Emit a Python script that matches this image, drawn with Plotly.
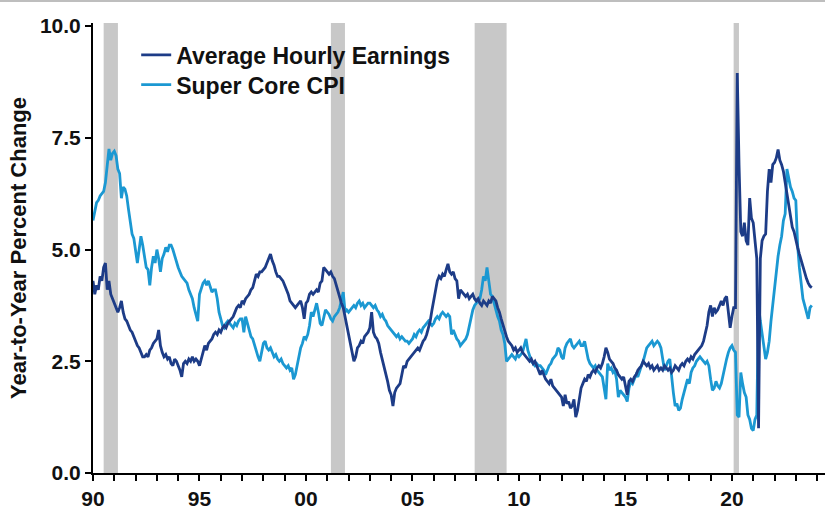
import plotly.graph_objects as go

# ---------------- data (monthly, Jan 1990 - Oct 2023) ----------------
start_year = 1990

ahe = [
    # 1990
    4.3, 4.0, 4.2, 4.1, 4.4, 4.3, 4.6, 4.7, 4.1, 4.3, 4.0, 3.9,
    # 1991
    3.8, 3.7, 3.6, 3.7, 3.85, 3.6, 3.45, 3.4, 3.3, 3.2, 3.15, 3.05,
    # 1992
    2.95, 2.85, 2.8, 2.7, 2.6, 2.6, 2.65, 2.6, 2.75, 2.8, 2.9, 2.95,
    # 1993
    3.0, 3.2, 2.85, 2.7, 2.6, 2.65, 2.55, 2.6, 2.45, 2.4, 2.55, 2.5,
    # 1994
    2.4, 2.3, 2.15, 2.45, 2.5, 2.45, 2.55, 2.5, 2.6, 2.5, 2.55, 2.5,
    # 1995
    2.4, 2.55, 2.7, 2.85, 2.75, 2.9, 2.95, 3.0, 3.1, 3.15, 3.1, 3.2,
    # 1996
    3.15, 3.25, 3.3, 3.25, 3.35, 3.4, 3.45, 3.5, 3.6, 3.7, 3.75, 3.7,
    # 1997
    3.85, 3.8, 3.9, 3.95, 4.0, 4.1, 4.15, 4.3, 4.45, 4.4, 4.5, 4.5,
    # 1998
    4.55, 4.6, 4.7, 4.8, 4.9, 4.75, 4.65, 4.5, 4.4, 4.4, 4.35, 4.3,
    # 1999
    4.2, 4.1, 4.0, 3.85, 3.8, 3.75, 3.7, 3.75, 3.8, 3.85, 3.7, 3.45,
    # 2000
    3.8, 3.85, 4.0, 4.05, 4.0, 4.05, 4.1, 4.05, 4.25, 4.3, 4.6, 4.55,
    # 2001
    4.5, 4.45, 4.5, 4.4, 4.35, 4.2, 4.05, 3.95, 3.8, 3.7, 3.5, 3.3,
    # 2002
    3.15, 2.9, 2.7, 2.5, 2.6, 2.8, 2.85, 2.95, 2.9, 3.05, 3.1, 3.15,
    # 2003
    3.25, 3.6, 3.15, 3.05, 3.0, 2.9, 2.7, 2.55, 2.4, 2.2, 2.05, 1.85,
    # 2004
    1.75, 1.5, 1.8, 1.9, 1.95, 2.0, 2.2, 2.4, 2.35, 2.5, 2.55, 2.6,
    # 2005
    2.65, 2.7, 2.75, 2.8, 2.75, 2.85, 2.95, 3.0, 3.1, 3.25, 3.4, 3.65,
    # 2006
    3.9, 4.1, 4.3, 4.4, 4.35, 4.45, 4.4, 4.55, 4.68, 4.5, 4.45, 4.5,
    # 2007
    4.35, 4.3, 3.9, 4.1, 4.05, 4.0, 3.95, 4.0, 3.9, 3.95, 4.0, 3.9,
    # 2008
    3.85, 3.9, 3.8, 3.75, 3.85, 3.8, 3.75, 3.85, 3.8, 3.95, 3.9, 3.85,
    # 2009
    3.7, 3.6, 3.45, 3.3, 3.2, 3.05, 2.95, 2.9, 2.85, 2.75, 2.8, 2.7,
    # 2010
    2.75, 2.8, 2.7, 2.65, 2.6, 2.55, 2.5, 2.55, 2.45, 2.5, 2.4, 2.3,
    # 2011
    2.2, 2.3, 2.2, 2.1, 2.05, 2.0, 2.1, 1.95, 1.9, 1.85, 1.8, 1.75,
    # 2012
    1.7, 1.5, 1.75, 1.55, 1.6, 1.45, 1.5, 1.65, 1.25, 1.4, 1.7, 1.9,
    # 2013
    2.0, 2.1, 2.05, 2.2, 2.15, 2.25, 2.3, 2.25, 2.35, 2.4, 2.35, 2.45,
    # 2014
    2.6, 2.8, 2.7, 2.55, 2.5, 2.45, 2.35, 2.3, 2.2, 2.15, 2.1, 2.15,
    # 2015
    1.9, 1.75, 2.05, 2.1, 2.05, 2.15, 2.2, 2.3, 2.35, 2.4, 2.5, 2.45,
    # 2016
    2.4, 2.45, 2.35, 2.4, 2.3, 2.35, 2.4, 2.3, 2.35, 2.3, 2.4, 2.35,
    # 2017
    2.3, 2.35, 2.25, 2.3, 2.4, 2.35, 2.3, 2.4, 2.45, 2.4, 2.5, 2.55,
    # 2018
    2.5, 2.6, 2.55, 2.65, 2.7, 2.75, 2.8, 2.85, 2.95, 3.1, 3.3, 3.6,
    # 2019
    3.75, 3.5, 3.7, 3.6, 3.65, 3.75, 3.85, 3.75, 3.9, 3.95, 3.6, 3.25,
    # 2020
    3.5, 3.7, 3.7, 8.95, 6.9, 5.4, 5.3, 5.6, 5.2, 5.1, 6.15, 5.7,
    # 2021
    5.6, 5.2, 4.8, 1.0, 4.8, 5.2, 5.3, 5.35, 6.3, 6.8, 6.5, 6.9,
    # 2022
    6.95, 7.05, 7.24, 7.0, 6.9, 6.75, 6.5, 6.2, 5.95, 5.75, 5.5, 5.4,
    # 2023
    5.2, 5.05, 4.9, 4.75, 4.6, 4.45, 4.35, 4.25, 4.18, 4.15,
]

super_core = [
    # 1990
    5.65, 5.9, 6.05, 6.1, 6.2, 6.25, 6.3, 6.5, 6.9, 7.25, 7.0, 7.15,
    # 1991
    7.2, 7.1, 6.8, 6.7, 6.15, 6.4, 6.35, 6.2, 5.9, 5.6, 5.35, 5.25,
    # 1992
    4.9, 4.7, 5.0, 5.3, 5.1, 4.85, 4.6, 4.55, 4.2, 4.6, 4.85, 4.7,
    # 1993
    5.0, 4.8, 4.5, 4.8, 4.9, 5.05, 4.95, 5.1, 5.1, 5.0, 4.85, 4.7,
    # 1994
    4.6, 4.5, 4.4, 4.35, 4.3, 4.25, 4.1, 4.0, 3.9, 3.7, 3.55, 3.4,
    # 1995
    4.0, 4.15, 4.25, 4.3, 4.2, 4.3, 4.15, 4.05, 4.1, 4.1, 3.9, 3.6,
    # 1996
    3.45, 3.3, 3.25, 3.35, 3.4, 3.35, 3.3, 3.25, 3.35, 3.3, 3.4, 3.45,
    # 1997
    3.45, 3.15, 3.5, 3.35, 3.2, 3.05, 3.0, 2.85, 2.75, 2.6, 2.5, 2.7,
    # 1998
    2.9, 2.95, 2.8, 2.75, 2.8, 2.7, 2.6, 2.65, 2.55, 2.5, 2.55, 2.45,
    # 1999
    2.4, 2.35, 2.4, 2.3, 2.35, 2.1, 2.2, 2.4, 2.55, 2.8, 2.9, 3.05,
    # 2000
    3.0, 3.1, 3.3, 3.6, 3.5, 3.65, 3.8, 3.6, 3.35, 3.3, 3.5, 3.65,
    # 2001
    3.6, 3.55, 3.45, 3.4, 3.5, 3.55, 3.6, 3.7, 3.85, 4.05, 3.6, 3.65,
    # 2002
    3.6, 3.65, 3.7, 3.75, 3.7, 3.8, 3.85, 3.75, 3.8, 3.7, 3.75, 3.8,
    # 2003
    3.8, 3.75, 3.7, 3.75, 3.65, 3.6, 3.5, 3.55, 3.45, 3.4, 3.3, 3.25,
    # 2004
    3.2, 3.15, 3.1, 3.05, 3.1, 3.0, 3.05, 3.0, 2.95, 2.95, 2.9, 2.95,
    # 2005
    3.0, 3.1, 3.05, 3.15, 3.2, 3.15, 3.25, 3.3, 3.35, 3.4, 3.35, 3.3,
    # 2006
    3.35, 3.45, 3.5, 3.45, 3.55, 3.6, 3.55, 3.5, 3.55, 3.5, 3.1, 3.2,
    # 2007
    3.1, 3.0, 2.95, 2.85, 2.9, 2.95, 3.0, 3.1, 3.3, 3.5, 3.65, 3.75,
    # 2008
    3.8, 3.85, 3.9, 4.1, 4.4, 4.3, 4.6, 4.3, 4.0, 3.95, 3.8, 3.6,
    # 2009
    3.5, 3.4, 3.2, 3.1, 2.9, 2.5, 2.55, 2.6, 2.65, 2.6, 2.55, 2.65,
    # 2010
    2.6, 2.65, 2.7, 2.85, 3.0, 2.75, 2.6, 2.5, 2.45, 2.4, 2.45, 2.4,
    # 2011
    2.4, 2.35, 2.3, 2.2, 2.3, 2.4, 2.45, 2.55, 2.6, 2.65, 2.8, 2.75,
    # 2012
    2.6, 2.55, 2.8, 2.9, 2.95, 3.0, 2.85, 2.8, 2.85, 2.9, 2.95, 2.85,
    # 2013
    2.85, 2.95, 2.7, 2.55, 2.45, 2.4, 2.35, 2.4, 2.3, 2.25, 2.2, 2.15,
    # 2014
    1.9, 1.65, 2.45, 2.3, 2.35, 2.25, 2.3, 2.1, 1.7, 1.85, 1.8, 1.75,
    # 2015
    1.7, 1.6, 1.9, 2.05, 2.0, 2.1, 2.2, 2.15, 2.3, 2.4, 2.5, 2.65,
    # 2016
    2.8, 2.85, 2.9, 2.95, 2.85, 2.9, 2.95, 2.9, 2.8, 2.55, 2.3, 2.4,
    # 2017
    2.5, 2.55, 2.1, 1.8, 1.5, 1.55, 1.4, 1.45, 1.65, 1.8, 2.0, 2.1,
    # 2018
    2.0, 2.25, 2.35, 2.4, 2.5, 2.55, 2.6, 2.55, 2.5, 2.45, 2.5, 2.4,
    # 2019
    2.1, 1.85, 1.9, 2.05, 1.95, 1.9, 2.0, 2.2, 2.4, 2.55, 2.7, 2.8,
    # 2020
    2.85, 2.75, 2.7, 1.3, 1.25, 2.25, 2.0, 1.8, 1.7, 1.3, 1.2, 1.0,
    # 2021
    0.95, 1.2, 1.3, 3.74, 3.4, 3.1, 2.8, 2.55, 2.7, 2.95, 3.4, 3.8,
    # 2022
    4.1, 4.6, 4.85, 5.1, 5.3, 5.65, 5.8, 6.8, 6.55, 6.4, 6.3, 6.15,
    # 2023
    6.1, 5.1, 4.6, 4.2, 3.9, 3.75, 3.6, 3.45, 3.7, 3.75,
]

# recession periods (decimal years)
rec_start = [1990.5, 2001.17, 2007.92, 2020.08]
rec_end = [1991.17, 2001.83, 2009.42, 2020.33]

tick_vals = [1990, 1995, 2000, 2005, 2010, 2015, 2020]
tick_text = ["90", "95", "00", "05", "10", "15", "20"]
y_ticks = [0, 2.5, 5, 7.5, 10]
y_text = ["0.0", "2.5", "5.0", "7.5", "10.0"]

names = ["Average Hourly Earnings", "Super Core CPI"]
colors = ["#1d3c87", "#1b98d2"]

# ---------------- figure ----------------
def months(n):
    return [start_year + i / 12 for i in range(n)]

FONT = "Arial, Liberation Sans, sans-serif"
TXT = "#111111"
fig = go.Figure()

fig.add_trace(go.Scatter(x=months(len(super_core)), y=super_core, mode="lines",
                         name=names[1], line=dict(color=colors[1], width=2.8),
                         legend="legend2"))
fig.add_trace(go.Scatter(x=months(len(ahe)), y=ahe, mode="lines",
                         name=names[0], line=dict(color=colors[0], width=2.8),
                         legend="legend"))

for s, e in zip(rec_start, rec_end):
    fig.add_shape(type="rect", xref="x", yref="paper", x0=s, x1=e, y0=0, y1=1,
                  fillcolor="#c8c8c8", line=dict(width=0), layer="below")

# thin grey frame line at very top of picture
fig.add_shape(type="line", xref="paper", yref="paper", x0=-0.2, x1=1.2,
              y0=1 + 22 / 452, y1=1 + 22 / 452,
              line=dict(color="#a8a8a8", width=1.5))

legend_common = dict(font=dict(family=FONT, size=23, color=TXT, weight="bold"),
                     bgcolor="rgba(0,0,0,0)", xanchor="left", yanchor="middle",
                     itemwidth=30)
fig.update_layout(
    width=825, height=510,
    margin=dict(l=93, r=0, t=23, b=35),
    paper_bgcolor="white", plot_bgcolor="white",
    showlegend=True,
    legend=dict(x=0.059, y=1 - (55 - 23) / 452, **legend_common),
    legend2=dict(x=0.059, y=1 - (85 - 23) / 452, **legend_common),
    xaxis=dict(range=[1990, 2024.37], tickvals=tick_vals, ticktext=tick_text,
               showgrid=False, zeroline=False, showline=True, linecolor="black",
               linewidth=2, ticks="outside", ticklen=6, tickwidth=1.5,
               tickcolor="black",
               minor=dict(dtick=1, tick0=1990, ticks="outside", ticklen=6,
                          tickwidth=1.5, tickcolor="black", showgrid=False),
               tickfont=dict(family=FONT, size=21, color=TXT, weight="bold")),
    yaxis=dict(range=[0, 10.07], tickvals=y_ticks, ticktext=y_text,
               showgrid=False, zeroline=False, showline=True, linecolor="black",
               linewidth=2, ticks="outside", ticklen=6, tickwidth=1.5,
               tickcolor="black",
               tickfont=dict(family=FONT, size=21, color=TXT, weight="bold"),
               title=dict(text="Year-to-Year Percent Change", standoff=7,
                          font=dict(family=FONT, size=22, color=TXT,
                                    weight="bold"))),
)

fig.write_html(
    "out.html",
    config={"displayModeBar": False},
    post_script="document.body.style.margin='0';document.body.style.padding='0';",
)
